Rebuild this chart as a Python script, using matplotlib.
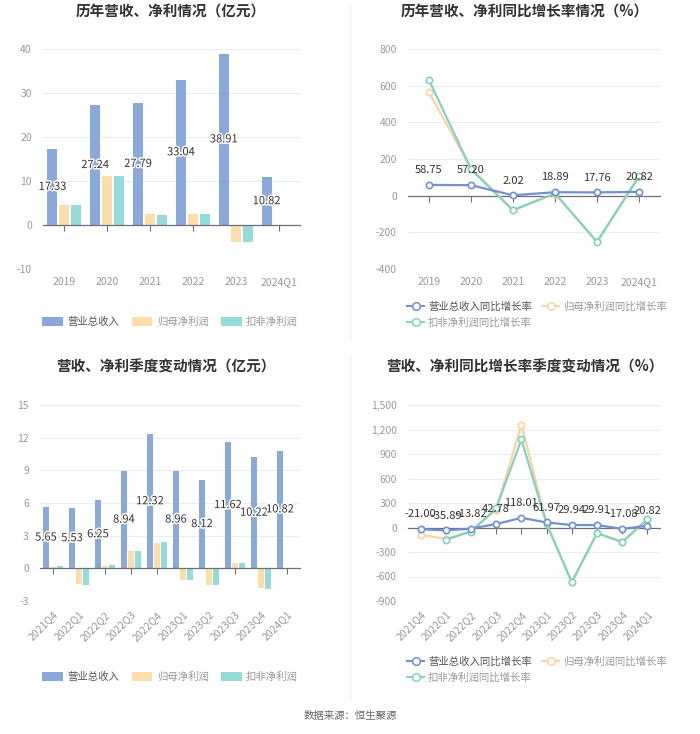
import matplotlib
matplotlib.use("Agg")
import matplotlib.pyplot as plt
import matplotlib.patheffects
import numpy as np
from matplotlib.lines import Line2D

plt.rcParams["font.family"] = ["Noto Sans CJK SC", "DejaVu Sans"]
plt.rcParams["axes.unicode_minus"] = False

# ---- data ----
years = ["2019", "2020", "2021", "2022", "2023", "2024Q1"]
rev_year = [17.33, 27.24, 27.79, 33.04, 38.91, 10.82]
np_year = [4.6, 11.1, 2.4, 2.6, -3.9, 0.06]
dnp_year = [4.5, 11.1, 2.3, 2.6, -3.9, 0.05]

rev_yoy = [58.75, 57.20, 2.02, 18.89, 17.76, 20.82]
np_yoy = [564, 150, -78, 10, -250, 100]
dnp_yoy = [631, 144, -80, 13, -253, 107]

quarters = ["2021Q4", "2022Q1", "2022Q2", "2022Q3", "2022Q4",
            "2023Q1", "2023Q2", "2023Q3", "2023Q4", "2024Q1"]
rev_q = [5.65, 5.53, 6.25, 8.94, 12.32, 8.96, 8.12, 11.62, 10.22, 10.82]
np_q = [0.15, -1.47, 0.25, 1.56, 2.33, -1.07, -1.56, 0.52, -1.84, 0.05]
dnp_q = [0.2, -1.5, 0.28, 1.56, 2.39, -1.05, -1.56, 0.52, -1.86, 0.05]

rev_q_yoy = [-21.00, -35.89, -13.82, 42.78, 118.01, 61.97, 29.94, 29.91, -17.08, 20.82]
np_q_yoy = [-89, -140, -49, 220, 1257, 50, -669, -69, -178, 100]
dnp_q_yoy = [np.nan, -150, -49, 235, 1078, 45, -670, -69, -178, 101]

BAR_NAMES = ["营业总收入", "归母净利润", "扣非净利润"]
LINE_NAMES = ["营业总收入同比增长率", "归母净利润同比增长率", "扣非净利润同比增长率"]

BLUE, ORANGE, TEAL = "#8AA9DB", "#FDDDAA", "#94DCD8"
LBLUE, LORANGE, LTEAL = "#7191D1", "#FBD3A0", "#80D3C3"
TICK_C = "#9A9A9A"
GRID_C = "#E9EDF3"
AXIS_C = "#6E7079"
TEXT_C = "#333333"

W, H = 700, 734
fig = plt.figure(figsize=(7.0, 7.34), dpi=100)


def px_axes(x0, y0, x1, y1):
    return fig.add_axes([x0 / W, 1 - y1 / H, (x1 - x0) / W, (y1 - y0) / H])


def style(ax, cats, ylim, yticks, ytick_labels, rotate):
    n = len(cats)
    ax.set_xlim(-0.5, n - 0.5)
    ax.set_ylim(*ylim)
    ax.set_yticks(yticks)
    ax.set_yticklabels(ytick_labels)
    ax.tick_params(axis="y", length=0, colors=TICK_C, labelsize=7.5, pad=8)
    for s in ["left", "right", "top"]:
        ax.spines[s].set_visible(False)
    ax.spines["bottom"].set_position(("data", 0))
    ax.spines["bottom"].set_color(AXIS_C)
    ax.spines["bottom"].set_linewidth(0.9)
    ax.set_xticks(np.arange(n))
    ax.tick_params(axis="x", length=4, color=AXIS_C, labelbottom=False, direction="out")
    ax.yaxis.grid(True, color=GRID_C, lw=0.8)
    ax.set_axisbelow(True)
    sec = ax.secondary_xaxis("bottom")
    sec.set_xticks(np.arange(n))
    sec.spines["bottom"].set_visible(False)
    if rotate:
        sec.set_xticklabels(cats, rotation=45, ha="right", rotation_mode="anchor")
    else:
        sec.set_xticklabels(cats)
    sec.tick_params(length=0, colors=TICK_C, labelsize=7.5, pad=6)


def bar_panel(ax, cats, rev, np_, dnp, off, w):
    x = np.arange(len(cats))
    ax.bar(x - off, rev, width=w, color=BLUE, zorder=2)
    ax.bar(x, np_, width=w, color=ORANGE, zorder=2)
    ax.bar(x + off, dnp, width=w, color=TEAL, zorder=2)
    for xi, v in zip(x, rev):
        t = ax.text(xi - off, v / 2, f"{v:.2f}", ha="center", va="center",
                    fontsize=8, color=TEXT_C, zorder=5)
        t.set_path_effects([matplotlib.patheffects.withStroke(linewidth=2.2, foreground="white")])


def bar_legend(cx, cy):
    items = [(BLUE, BAR_NAMES[0], "#555555"), (ORANGE, BAR_NAMES[1], "#999999"),
             (TEAL, BAR_NAMES[2], "#999999")]
    handles = [plt.matplotlib.patches.Patch(fc=c, label=l) for c, l, _ in items]
    leg = fig.legend(handles=handles, loc="center", bbox_to_anchor=(cx / W, 1 - cy / H),
                     ncol=3, frameon=False, fontsize=7.5, handlelength=2.0,
                     handleheight=1.0, handletextpad=0.4, columnspacing=1.2)
    for t, (_, _, tc) in zip(leg.get_texts(), items):
        t.set_color(tc)


def line_panel(ax, cats, rev, np_, dnp):
    x = np.arange(len(cats))
    mk = dict(marker="o", markersize=4.5, markerfacecolor="white", markeredgewidth=1.2, lw=1.6)
    ax.plot(x, np_, color=LORANGE, zorder=3, **mk)
    ax.plot(x, dnp, color=LTEAL, zorder=4, **mk)
    ax.plot(x, rev, color=LBLUE, zorder=5, **mk)
    for xi, v in zip(x, rev):
        ax.annotate(f"{v:.2f}", (xi, v), xytext=(0, 7), textcoords="offset points",
                    ha="center", va="bottom", fontsize=8, color=TEXT_C, zorder=6)


def line_legend(x0, y0):
    mk = dict(marker="o", markersize=5.5, markerfacecolor="white", markeredgewidth=1.1, lw=1.4)
    h = [Line2D([0], [0], color=LBLUE, label=LINE_NAMES[0], **mk),
         Line2D([0], [0], color=LTEAL, label=LINE_NAMES[2], **mk),
         Line2D([0], [0], color=LORANGE, label=LINE_NAMES[1], **mk)]
    leg = fig.legend(handles=h, loc="upper left", bbox_to_anchor=(x0 / W, 1 - y0 / H),
                     ncol=2, frameon=False, fontsize=7.5, handlelength=1.6,
                     handletextpad=0.4, columnspacing=1.0, labelspacing=0.55,
                     borderpad=0)
    for t, tc in zip(leg.get_texts(), ["#555555", "#999999", "#999999"]):
        t.set_color(tc)


# ---- top-left: annual revenue / profit ----
ax1 = px_axes(43, 49, 300, 269)
bar_panel(ax1, years, rev_year, np_year, dnp_year, off=0.28, w=0.23)
style(ax1, years, (-10, 40), [-10, 0, 10, 20, 30, 40],
      ["-10", "0", "10", "20", "30", "40"], rotate=False)
fig.text(171 / W, 1 - 12 / H, "历年营收、净利情况（亿元）", ha="center", va="center",
         fontsize=10.5, fontweight="bold", color="#333333")
bar_legend(170, 322)

# ---- top-right: annual growth ----
ax2 = px_axes(408, 49, 660, 269)
line_panel(ax2, years, rev_yoy, np_yoy, dnp_yoy)
style(ax2, years, (-400, 800), [-400, -200, 0, 200, 400, 600, 800],
      ["-400", "-200", "0", "200", "400", "600", "800"], rotate=False)
fig.text(525 / W, 1 - 12 / H, "历年营收、净利同比增长率情况（%）", ha="center", va="center",
         fontsize=10.5, fontweight="bold", color="#333333")
line_legend(402, 296)

# ---- bottom-left: quarterly revenue / profit ----
ax3 = px_axes(40, 405, 300, 601)
bar_panel(ax3, quarters, rev_q, np_q, dnp_q, off=0.27, w=0.22)
style(ax3, quarters, (-3, 15), [-3, 0, 3, 6, 9, 12, 15],
      ["-3", "0", "3", "6", "9", "12", "15"], rotate=True)
fig.text(166 / W, 1 - 367 / H, "营收、净利季度变动情况（亿元）", ha="center", va="center",
         fontsize=10.5, fontweight="bold", color="#333333")
bar_legend(170, 677)

# ---- bottom-right: quarterly growth ----
ax4 = px_axes(408, 405, 660, 601)
line_panel(ax4, quarters, rev_q_yoy, np_q_yoy, dnp_q_yoy)
style(ax4, quarters, (-900, 1500), [-900, -600, -300, 0, 300, 600, 900, 1200, 1500],
      ["-900", "-600", "-300", "0", "300", "600", "900", "1,200", "1,500"], rotate=True)
fig.text(525 / W, 1 - 367 / H, "营收、净利同比增长率季度变动情况（%）", ha="center", va="center",
         fontsize=10.5, fontweight="bold", color="#333333")
line_legend(402, 651)

# separators and source
fig.add_artist(Line2D([350 / W, 350 / W], [1 - 340 / H, 1 - 5 / H], color="#F2F2F2", lw=1))
fig.add_artist(Line2D([350 / W, 350 / W], [1 - 700 / H, 1 - 355 / H], color="#F2F2F2", lw=1))
fig.text(0.5, 1 - 716 / H, "数据来源：恒生聚源", ha="center", va="center",
         fontsize=7.5, color="#666666")

fig.savefig("out.png", dpi=100)
